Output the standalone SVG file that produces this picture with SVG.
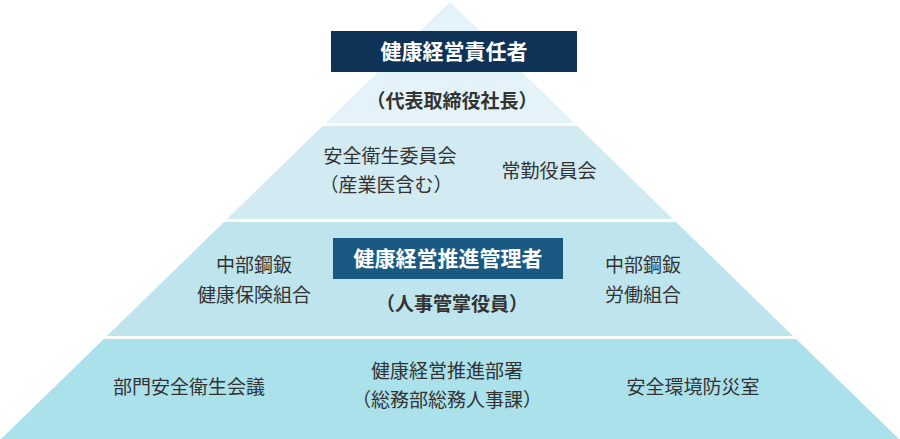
<svg xmlns="http://www.w3.org/2000/svg" width="900" height="439" viewBox="0 0 900 439">
<style>
text{font-family:"Noto Sans CJK JP","Noto Sans CJK SC",sans-serif;font-size:19px;fill:#333;text-anchor:middle}
.w{fill:#fff;font-size:21px;font-weight:bold}
.b{font-weight:bold}
</style>
<defs><clipPath id="tri"><polygon points="450,2 0,440 900,440"/></clipPath></defs>
<g clip-path="url(#tri)">
<g id="tier1"><rect x="0" y="0" width="900" height="123" fill="#e3f3f9"/></g>
<g id="tier2"><rect x="0" y="126" width="900" height="93" fill="#d2eaf1"/></g>
<g id="tier3"><rect x="0" y="222" width="900" height="114" fill="#bee5ee"/></g>
<g id="tier4"><rect x="0" y="339" width="900" height="100" fill="#abe1eb"/></g>
</g>
<g id="connectors"></g>
<g id="n1"><rect x="331" y="31" width="246" height="41" fill="#0e3356"/><text class="w" x="454" y="59">健康経営責任者</text></g>
<g id="n2"><text class="b" x="452" y="108">（代表取締役社長）</text></g>
<g id="n3"><text x="390" y="163">安全衛生委員会</text><text x="386" y="192">（産業医含む）</text></g>
<g id="n4"><text x="549" y="178">常勤役員会</text></g>
<g id="n5"><rect x="333" y="238" width="230" height="41" fill="#1a5a82"/><text class="w" x="448" y="266">健康経営推進管理者</text></g>
<g id="n6"><text class="b" x="452" y="311">（人事管掌役員）</text></g>
<g id="n7"><text x="254" y="272">中部鋼鈑</text><text x="254" y="302">健康保険組合</text></g>
<g id="n8"><text x="643" y="272">中部鋼鈑</text><text x="643" y="302">労働組合</text></g>
<g id="n9"><text x="189" y="394">部門安全衛生会議</text></g>
<g id="n10"><text x="447" y="378">健康経営推進部署</text><text x="447" y="407">（総務部総務人事課）</text></g>
<g id="n11"><text x="693" y="394">安全環境防災室</text></g>
</svg>
